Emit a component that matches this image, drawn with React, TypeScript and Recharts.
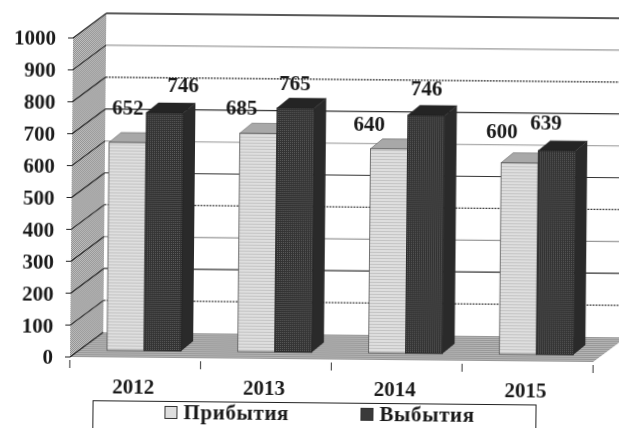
import React from 'react';
import { ComposedChart, Bar, XAxis, YAxis, CartesianGrid, LabelList, Legend } from 'recharts';

const years = ['2012', '2013', '2014', '2015'];
const arrivals = [652, 685, 640, 600];
const departures = [746, 765, 746, 639];
const yTicks = [0, 100, 200, 300, 400, 500, 600, 700, 800, 900, 1000];
const rows = years.map((year, i) => ({ year, arrivals: arrivals[i], departures: departures[i] }));

// layout & styling, separate from the data
const FONT = '"Liberation Serif", serif';
const PLOT_TOP = 38;
const PLOT_H = 319;
const DEPTH = { x: 33, y: -25 };
const BAR_SHIFT = { x: 9, y: -7 };
const BAR_DEPTH = { x: 12, y: -10 };
const BAND = 131;
const gridStyles: Record<number, { stroke: string; dash?: string }> = {
  1000: { stroke: '#222' }, 900: { stroke: '#999' }, 800: { stroke: '#333', dash: '2 1' },
  700: { stroke: '#333' }, 600: { stroke: '#aaa' }, 500: { stroke: '#333' },
  400: { stroke: '#444', dash: '2 1' }, 300: { stroke: '#999' }, 200: { stroke: '#333' },
  100: { stroke: '#444', dash: '2 1' }, 0: { stroke: '#999' },
};
const arrivalLabelOffsets = [[0, -35], [-17, -25], [-20, -25], [-18, -32]];
const departureLabelOffsets = [[18, -28], [-1, -25], [0, -27], [-11, -28]];
const pts = (a: number[][]) => a.map((q) => q.join(',')).join(' ');

const wallLine = (p: any) => {
  if (Math.abs(p.y1 - PLOT_TOP) > 1) return <g key={p.key ?? p.index} />;
  const x = p.x1;
  const r = p.x2;
  const y = p.y1;
  const b = y + PLOT_H;
  return (
    <g key={p.key ?? p.index}>
      <defs>
        <pattern id="wall" width="2" height="2" patternUnits="userSpaceOnUse">
          <rect width="2" height="2" fill="#c4c4c4" />
          <rect width="1" height="1" fill="#8e8e8e" />
          <rect x="1" y="1" width="1" height="1" fill="#8e8e8e" />
        </pattern>
        <pattern id="floor" width="3" height="2" patternUnits="userSpaceOnUse">
          <rect width="3" height="2" fill="#b4b4b4" />
          <rect width="3" height="1" fill="#989898" />
        </pattern>
        <pattern id="light" width="2" height="3" patternUnits="userSpaceOnUse">
          <rect width="2" height="3" fill="#dedede" />
          <rect width="2" height="1" fill="#c4c4c4" />
        </pattern>
        <pattern id="dark" width="2" height="2" patternUnits="userSpaceOnUse">
          <rect width="2" height="2" fill="#333" />
          <rect width="1" height="1" fill="#5c5c5c" />
        </pattern>
      </defs>
      <polygon points={pts([[x, y], [x + DEPTH.x, y + DEPTH.y], [x + DEPTH.x, b + DEPTH.y], [x, b]])} fill="url(#wall)" />
      <polygon points={pts([[x, b], [r, b], [r + DEPTH.x, b + DEPTH.y], [x + DEPTH.x, b + DEPTH.y]])} fill="url(#floor)" />
    </g>
  );
};

const gridLine = (p: any) => {
  const value = Math.round(((PLOT_TOP + PLOT_H - p.y1) / PLOT_H) * 10) * 100;
  const s = gridStyles[value] || gridStyles[0];
  return (
    <g key={p.key ?? p.index}>
      {value > 0 && (
        <line x1={p.x1 + DEPTH.x} y1={p.y1 + DEPTH.y} x2={p.x2 + DEPTH.x} y2={p.y2 + DEPTH.y}
          stroke={s.stroke} strokeDasharray={s.dash} strokeWidth={value === 1000 ? 1.5 : 1.2} />
      )}
      <line x1={p.x1} y1={p.y1} x2={p.x1 + DEPTH.x} y2={p.y1 + DEPTH.y} stroke="#222" strokeWidth={1.1} />
    </g>
  );
};

const Bar3D = (front: string, top: string, side: string, edge: string) => (p: any) => {
  const x = p.x + BAR_SHIFT.x;
  const y = p.y + BAR_SHIFT.y;
  const { width: w, height: h } = p;
  const d = BAR_DEPTH;
  return (
    <g>
      <polygon points={pts([[x + w, y], [x + w + d.x, y + d.y], [x + w + d.x, y + h + d.y], [x + w, y + h]])} fill={side} />
      <polygon points={pts([[x, y], [x + d.x, y + d.y], [x + w + d.x, y + d.y], [x + w, y]])} fill={top} stroke={edge} strokeWidth={0.5} />
      <rect x={x} y={y} width={w} height={h} fill={front} stroke={edge} strokeWidth={0.8} />
    </g>
  );
};

const valueLabel = (offsets: number[][]) => (p: any) => {
  const [dx, dy] = offsets[p.index];
  return (
    <text x={p.x + BAR_SHIFT.x + p.width / 2 + dx} y={p.y + BAR_SHIFT.y + dy} textAnchor="middle" dominantBaseline="central"
      fontFamily={FONT} fontWeight="bold" fontSize={21} fill="#1a1a1a">{p.value}</text>
  );
};

const YearTick = (p: any) => {
  const left = p.x - BAND / 2;
  return (
    <g>
      <line x1={left} y1={p.y - 5} x2={left} y2={p.y + 3} stroke="#333" />
      {p.index === years.length - 1 && <line x1={left + BAND} y1={p.y - 5} x2={left + BAND} y2={p.y + 3} stroke="#333" />}
      <text x={p.x - 2} y={p.y + 28} textAnchor="middle" fontFamily={FONT} fontWeight="bold" fontSize={21} fill="#1a1a1a">{p.payload.value}</text>
    </g>
  );
};

const LegendBox = (p: any) => (
  <div style={{ fontFamily: FONT, fontWeight: 'bold', fontSize: 21, lineHeight: '20px', color: '#1a1a1a' }}>
    {(p.payload || []).map((e: any, i: number) => (
      <div key={e.value} style={{ position: 'absolute', left: i === 0 ? 71 : 267, top: 0, display: 'flex', alignItems: 'center', letterSpacing: 0.6 }}>
        <span style={{ display: 'inline-block', width: 13, height: 13, marginRight: 6, boxSizing: 'border-box', background: i === 0 ? '#dedede' : '#3a3a3a', border: '1px solid #333' }} />
        {e.value}
      </div>
    ))}
  </div>
);

export default function App() {
  return (
    <div style={{ position: 'fixed', left: 0, top: 0, width: 619, height: 428, overflow: 'hidden', background: '#fff' }}>
      <div style={{ transform: 'rotate(0.55deg)', transformOrigin: '70px 357px', width: 660, height: 440, filter: 'blur(0.35px)' }}>
        <ComposedChart width={660} height={440} data={rows} barGap={0} barSize={37}
          margin={{ top: PLOT_TOP, right: 67, bottom: 53, left: 0 }}>
          <CartesianGrid vertical={false} horizontal={wallLine} syncWithTicks />
          <CartesianGrid vertical={false} horizontal={gridLine} syncWithTicks />
          <XAxis dataKey="year" height={30} axisLine={false} tickLine={false} tick={YearTick} interval={0} />
          <YAxis width={70} domain={[0, 1000]} ticks={yTicks} interval={0} axisLine={false} tickSize={5} tickMargin={12}
            tickLine={{ stroke: '#222' }} tick={{ fontFamily: FONT, fontWeight: 'bold', fontSize: 21, fill: '#1a1a1a' }} />
          <Bar dataKey="arrivals" name="Прибытия" isAnimationActive={false}
            shape={Bar3D('url(#light)', '#a8a8a8', '#a8a8a8', '#555')}>
            <LabelList dataKey="arrivals" content={valueLabel(arrivalLabelOffsets)} />
          </Bar>
          <Bar dataKey="departures" name="Выбытия" isAnimationActive={false}
            shape={Bar3D('url(#dark)', '#242424', '#2a2a2a', '#222')}>
            <LabelList dataKey="departures" content={valueLabel(departureLabelOffsets)} />
          </Bar>
          <Legend verticalAlign="middle" content={LegendBox} itemSorter="dataKey"
            wrapperStyle={{ left: 93, top: 400, width: 444, height: 50, border: '1.5px solid #222', boxSizing: 'border-box' }} />
        </ComposedChart>
      </div>
    </div>
  );
}
